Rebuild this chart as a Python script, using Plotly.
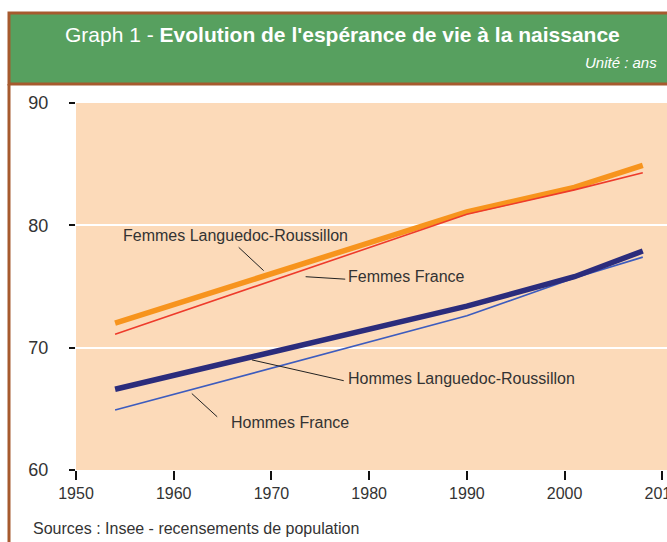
import plotly.graph_objects as go

# ---- data ----
years = [1954, 1990, 2001, 2008]
femmes_lr = [72.0, 81.1, 83.1, 84.9]
femmes_fr = [71.1, 80.9, 82.9, 84.3]
hommes_lr = [66.6, 73.4, 75.8, 77.9]
hommes_fr = [64.9, 72.6, 75.7, 77.4]

x_ticks = [1950, 1960, 1970, 1980, 1990, 2000, 2010]
y_ticks = [60, 70, 80, 90]

series_names = ["Femmes Languedoc-Roussillon", "Femmes France",
                "Hommes Languedoc-Roussillon", "Hommes France"]

# label positions (data coords) and leader lines
label_pos = [(1954.65, 79.2), (1977.6, 75.85), (1977.65, 67.45), (1965.65, 63.9)]
leaders = [((1966.65, 78.2), (1969.2, 76.3)),
           ((1973.5, 75.8), (1977.55, 75.6)),
           ((1968.0, 69.0), (1977.4, 67.3)),
           ((1961.85, 66.25), (1964.45, 64.35))]

# ---- geometry (body margin removed in post_script) ----
OFF = 0
W, H = 667 - OFF, 542 - OFF
ML, MR, MT, MB = 76 - OFF, 0, 103 - OFF, 72
PW, PH = W - ML - MR, H - MT - MB
PX_PER_YEAR = 9.772


def px(xp):  # viewport pixel -> paper
    return (xp - OFF - ML) / PW


def py(yp):
    return (H - MB - (yp - OFF)) / PH


GREEN = "#57A05F"
BROWN = "#A65A2E"
PEACH = "#FCDAB9"
TXT = "#333333"

fig = go.Figure()

fig.add_trace(go.Scatter(x=years, y=femmes_lr, mode="lines",
                         line=dict(color="#F7941D", width=5.5), name=series_names[0]))
fig.add_trace(go.Scatter(x=years, y=femmes_fr, mode="lines",
                         line=dict(color="#EE3B2B", width=1.6), name=series_names[1]))
fig.add_trace(go.Scatter(x=years, y=hommes_fr, mode="lines",
                         line=dict(color="#3D5CBE", width=1.6), name=series_names[3]))
fig.add_trace(go.Scatter(x=years, y=hommes_lr, mode="lines",
                         line=dict(color="#2B2C7C", width=5.5), name=series_names[2]))

shapes = []
# header box
shapes.append(dict(type="rect", xref="paper", yref="paper",
                   x0=px(9), x1=px(720), y0=py(84), y1=py(13),
                   fillcolor=GREEN, line=dict(color=BROWN, width=3), layer="above"))
# left frame border
shapes.append(dict(type="line", xref="paper", yref="paper",
                   x0=px(9), x1=px(9), y0=py(84), y1=py(560),
                   line=dict(color=BROWN, width=3)))
for (a, b) in leaders:
    shapes.append(dict(type="line", xref="x", yref="y",
                       x0=a[0], y0=a[1], x1=b[0], y1=b[1],
                       line=dict(color="#222222", width=1)))

annotations = []
for name, (lx, ly) in zip(series_names, label_pos):
    annotations.append(dict(x=lx, y=ly, xref="x", yref="y", text=name,
                            showarrow=False, xanchor="left", yanchor="middle",
                            font=dict(size=16, color=TXT, family="Liberation Sans, Arial")))
annotations.append(dict(x=px(342.5), y=py(34), xref="paper", yref="paper",
                        text="Graph 1 - <b>Evolution de l'espérance de vie à la naissance</b>",
                        showarrow=False, xanchor="center", yanchor="middle",
                        font=dict(size=21, color="white", family="Liberation Sans, Arial")))
annotations.append(dict(x=px(659), y=py(62), xref="paper", yref="paper",
                        text="<i>Unité : ans</i>", showarrow=False,
                        xanchor="right", yanchor="middle",
                        font=dict(size=15, color="white", family="Liberation Sans, Arial")))
annotations.append(dict(x=px(31), y=py(528), xref="paper", yref="paper",
                        text="Sources : Insee - recensements de population", showarrow=False,
                        xanchor="left", yanchor="middle",
                        font=dict(size=16, color=TXT, family="Liberation Sans, Arial")))

fig.update_layout(
    width=W, height=H,
    margin=dict(l=ML, r=MR, t=MT, b=MB, pad=0, autoexpand=False),
    paper_bgcolor="white", plot_bgcolor=PEACH,
    showlegend=False,
    shapes=shapes, annotations=annotations,
    font=dict(family="Liberation Sans, Arial", color=TXT),
)
fig.update_xaxes(range=[1950, 1950 + PW / PX_PER_YEAR], tickvals=x_ticks, automargin=False,
                 ticks="outside", ticklen=9, tickwidth=1.5, tickcolor="#111111",
                 showgrid=False, zeroline=False, showline=False,
                 tickfont=dict(size=16, color=TXT), ticklabeloverflow="allow")
fig.update_yaxes(range=[60, 90], tickvals=y_ticks, automargin=False,
                 ticks="outside", ticklen=6, tickwidth=1.5, tickcolor="#111111",
                 showgrid=True, gridcolor="white", gridwidth=2,
                 zeroline=False, showline=False,
                 tickfont=dict(size=18, color=TXT), ticklabelstandoff=17)

fig.write_html("out.html", config={"displayModeBar": False},
               post_script="document.body.style.margin='0';"
                           "document.documentElement.style.overflow='hidden';"
                           "document.body.style.overflow='hidden';")
